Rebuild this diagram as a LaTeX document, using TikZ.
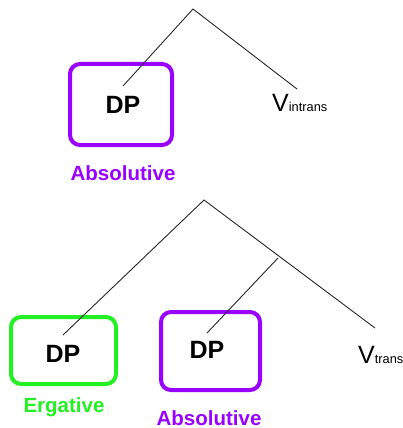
\documentclass[tikz,border=0pt]{standalone}
\usepackage{fontspec}
\setmainfont{Liberation Sans}
\definecolor{abspurple}{HTML}{9900FF}
\definecolor{erggreen}{HTML}{22F022}
\begin{document}
\begin{tikzpicture}[x=1pt,y=-1pt,
  casebox/.style={draw, line width=4pt, rounded corners=10pt, minimum width=#1},
  dp/.style={font=\fontsize{25}{25}\selectfont\bfseries, inner sep=0pt},
  caselabel/.style={font=\fontsize{20.5}{20.5}\selectfont\bfseries, inner sep=0pt},
  verb/.style={font=\fontsize{25}{25}\selectfont, inner sep=0pt, anchor=base west},
  branch/.style={line width=0.9pt, black!85}]
\useasboundingbox (0,0) rectangle (402,428);
% top tree
\draw[casebox=0pt, abspurple] (70,64) rectangle (172,145);
\node[dp] (dp1) at (123,105) {DP};
\node[caselabel, text=abspurple] (abs1) at (123,173) {Absolutive};
\node[verb] (v1) at (272,111) {V\fontsize{12.8}{12.8}\selectfont intrans};
\coordinate (top1) at (193,9);
\coordinate (l1) at (123,86);
\coordinate (r1) at (297,89);
\draw[branch] (l1) -- (top1) -- (r1);
% bottom tree
\draw[casebox=0pt, erggreen] (11,317) rectangle (116,384);
\draw[casebox=0pt, abspurple] (161,312) rectangle (260,390);
\node[dp] (dp2) at (63,354) {DP};
\node[dp] (dp3) at (207,350) {DP};
\node[caselabel, text=erggreen] (erg) at (64,407) {Ergative};
\node[caselabel, text=abspurple] (abs2) at (209,418) {Absolutive};
\node[verb] (v2) at (358,363) {V\fontsize{12.8}{12.8}\selectfont trans};
\coordinate (top2) at (204,200);
\coordinate (mid2) at (278,258);
\coordinate (l2) at (63,335);
\coordinate (m2) at (207,333);
\coordinate (r2) at (375,328);
\draw[branch] (l2) -- (top2) -- (r2);
\draw[branch] (mid2) -- (m2);
\end{tikzpicture}
\end{document}
